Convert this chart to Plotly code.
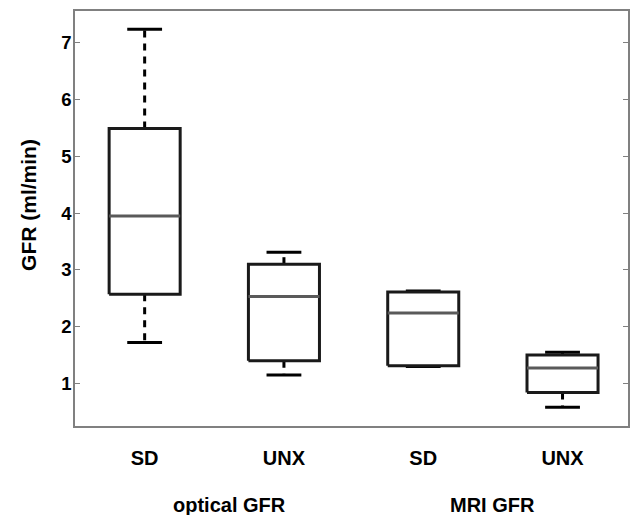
import plotly.graph_objects as go

categories = ["SD", "UNX", "SD", "UNX"]
positions = [1, 2, 3, 4]
group_labels = ["optical GFR", "MRI GFR"]
upper_whisker = [7.24, 3.31, 2.63, 1.55]
q3 = [5.49, 3.10, 2.61, 1.50]
median = [3.95, 2.53, 2.24, 1.27]
q1 = [2.57, 1.40, 1.31, 0.84]
lower_whisker = [1.72, 1.15, 1.30, 0.58]
y_ticks = [1, 2, 3, 4, 5, 6, 7]

BOX_HALF = 0.255
CAP_HALF = 0.125
GROUP_LABEL_SHIFT = [0.11, 0.0]

box_x, box_y = [], []
med_x, med_y = [], []
wh_x, wh_y = [], []
cap_x, cap_y = [], []
for p, hi, a, m, b, lo in zip(positions, upper_whisker, q3, median, q1, lower_whisker):
    box_x += [p - BOX_HALF, p + BOX_HALF, p + BOX_HALF, p - BOX_HALF, p - BOX_HALF, None]
    box_y += [b, b, a, a, b, None]
    med_x += [p - BOX_HALF, p + BOX_HALF, None]
    med_y += [m, m, None]
    wh_x += [p, p, None, p, p, None]
    wh_y += [a, hi, None, b, lo, None]
    cap_x += [p - CAP_HALF, p + CAP_HALF, None, p - CAP_HALF, p + CAP_HALF, None]
    cap_y += [hi, hi, None, lo, lo, None]

fig = go.Figure()
fig.add_trace(go.Scatter(x=wh_x, y=wh_y, mode="lines",
                         line=dict(color="black", width=3, dash="7px,6px"),
                         hoverinfo="skip", showlegend=False))
fig.add_trace(go.Scatter(x=cap_x, y=cap_y, mode="lines",
                         line=dict(color="black", width=3),
                         hoverinfo="skip", showlegend=False))
fig.add_trace(go.Scatter(x=box_x, y=box_y, mode="lines",
                         line=dict(color="#1a1a1a", width=3),
                         hoverinfo="skip", showlegend=False))
fig.add_trace(go.Scatter(x=med_x, y=med_y, mode="lines",
                         line=dict(color="#5a5a5a", width=3),
                         hoverinfo="skip", showlegend=False))

font_family = "Liberation Sans, Arial, sans-serif"
for i, g in enumerate(group_labels):
    fig.add_annotation(x=(positions[2 * i] + positions[2 * i + 1]) / 2 + GROUP_LABEL_SHIFT[i], xref="x",
                       y=-0.19, yref="paper", yanchor="middle",
                       text=f"<b>{g}</b>", showarrow=False,
                       font=dict(family=font_family, size=20, color="black"))

# y-axis title (placed slightly above axis centre as in the reference)
fig.add_annotation(x=-0.083, xref="paper", y=0.533, yref="paper",
                   xanchor="center", yanchor="middle", textangle=-90,
                   text="<b>GFR (ml/min)</b>", showarrow=False,
                   font=dict(family=font_family, size=21, color="black"))

fig.update_layout(
    width=630, height=515,
    margin=dict(l=75, r=2, t=11, b=89, autoexpand=False),
    plot_bgcolor="white", paper_bgcolor="white",
    font=dict(family=font_family, color="black"),
    xaxis=dict(range=[0.5, 4.47], tickvals=positions,
               ticktext=[f"<b>{c}</b>" for c in categories],
               tickfont=dict(size=20, family=font_family),
               showline=True, linecolor="#808080", linewidth=1.5, mirror=True,
               ticks="", showgrid=False, zeroline=False, ticklabelstandoff=13,
               automargin=False),
    yaxis=dict(range=[0.25, 7.56], tickvals=y_ticks,
               ticktext=[f"<b>{t}</b>" for t in y_ticks],
               tickfont=dict(size=18.5, family=font_family),
               showline=True, linecolor="#808080", linewidth=1.5, mirror="ticks",
               ticks="inside", ticklen=5, tickcolor="#808080", tickwidth=1,
               showgrid=False, zeroline=False, automargin=False,
               ticklabelstandoff=-2),
)

fig.write_html("out.html", config={"displayModeBar": False},
               post_script="document.body.style.margin='0';")
